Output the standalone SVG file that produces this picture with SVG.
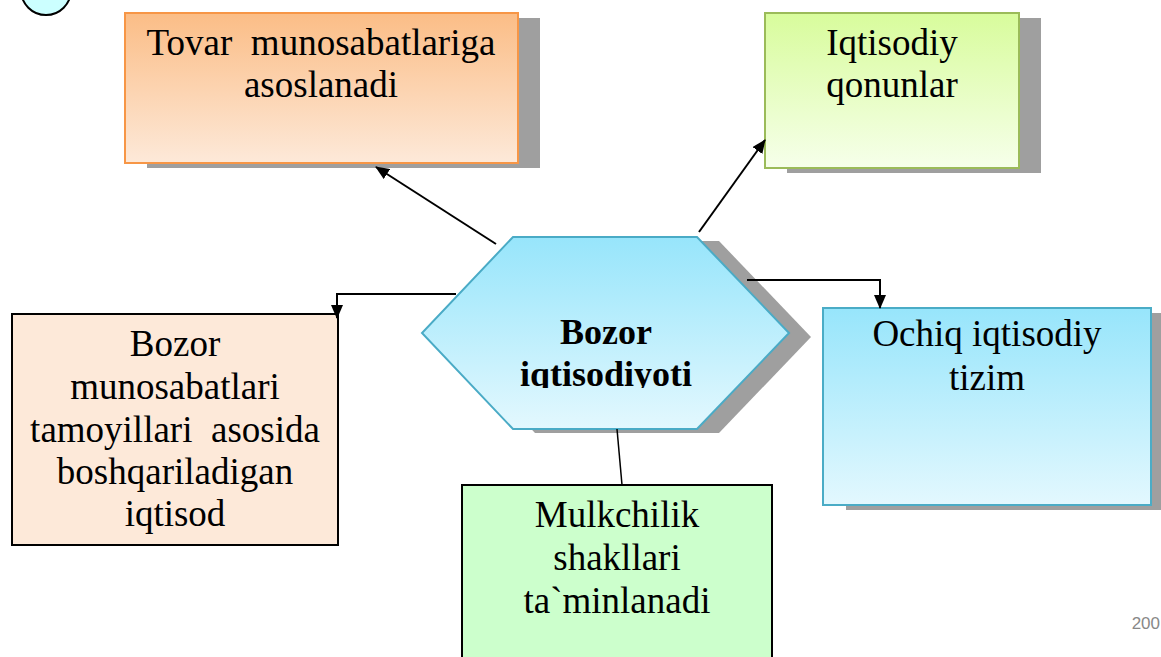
<svg xmlns="http://www.w3.org/2000/svg" width="1161" height="657" viewBox="0 0 1161 657">
<style>
.t{font-family:"Liberation Serif","Times New Roman",serif;font-size:37px;fill:#000;text-anchor:middle;white-space:pre}
.b{font-weight:bold;font-size:36px}
.sh{fill:#9f9f9f}
.ln{stroke:#000;stroke-width:2;fill:none}
</style>
<defs>
<linearGradient id="gO" x1="0" y1="0" x2="0" y2="1"><stop offset="0" stop-color="#fbbd86"/><stop offset="1" stop-color="#fde9d9"/></linearGradient>
<linearGradient id="gG" x1="0" y1="0" x2="0" y2="1"><stop offset="0" stop-color="#d8fc9c"/><stop offset="1" stop-color="#f6ffea"/></linearGradient>
<linearGradient id="gB" x1="0" y1="0" x2="0" y2="1"><stop offset="0" stop-color="#97e5fb"/><stop offset="1" stop-color="#e3f8fe"/></linearGradient>
<marker id="ah" markerWidth="14" markerHeight="12" refX="13" refY="6" orient="auto" markerUnits="userSpaceOnUse"><path d="M0,0 L14,6 L0,12 Z" fill="#000"/></marker>
<clipPath id="hc"><rect x="422" y="237" width="367" height="151"/></clipPath>
</defs>
<g id="corner-circle"><circle cx="46" cy="-10" r="25" fill="#ccffff" stroke="#000" stroke-width="2"/></g>
<g id="node-tovar">
<rect class="sh" x="147" y="18" width="393" height="150"/>
<rect x="125" y="13" width="393" height="150" fill="url(#gO)" stroke="#f79646" stroke-width="2"/>
<text class="t" x="321" y="55">Tovar  munosabatlariga</text>
<text class="t" x="321" y="97">asoslanadi</text>
</g>
<g id="node-iqtisodiy">
<rect class="sh" x="787" y="18" width="254" height="155"/>
<rect x="765" y="13" width="254" height="155" fill="url(#gG)" stroke="#9bbb59" stroke-width="2"/>
<text class="t" x="892" y="55">Iqtisodiy</text>
<text class="t" x="892" y="97">qonunlar</text>
</g>
<g id="node-bozor">
<polygon class="sh" points="535,241 719,241 811,337 719,433 535,433 444,337"/>
<polygon points="513,237 697,237 789,333 697,429 513,429 422,333" fill="url(#gB)" stroke="#4aabc6" stroke-width="2"/>
<g clip-path="url(#hc)">
<text class="t b" x="606" y="344">Bozor</text>
<text class="t b" x="606" y="386">iqtisodiyoti</text>
</g>
</g>
<g id="node-boshqariladigan">
<rect x="12" y="314" width="326" height="231" fill="#fde9d9" stroke="#000" stroke-width="2"/>
<text class="t" x="175" y="356">Bozor</text>
<text class="t" x="175" y="399">munosabatlari</text>
<text class="t" x="175" y="442">tamoyillari  asosida</text>
<text class="t" x="175" y="484">boshqariladigan</text>
<text class="t" x="175" y="526">iqtisod</text>
</g>
<g id="node-ochiq">
<rect class="sh" x="846" y="313" width="328" height="197"/>
<rect x="823" y="308" width="328" height="197" fill="url(#gB)" stroke="#4aacc6" stroke-width="2"/>
<text class="t" x="987" y="346">Ochiq iqtisodiy</text>
<text class="t" x="987" y="390">tizim</text>
</g>
<g id="node-mulkchilik">
<rect x="462" y="485" width="310" height="190" fill="#ccffcc" stroke="#000" stroke-width="2"/>
<text class="t" x="617" y="527">Mulkchilik</text>
<text class="t" x="617" y="570">shakllari</text>
<text class="t" x="617" y="613">ta`minlanadi</text>
</g>
<g id="connectors">
<line class="ln" x1="496" y1="244" x2="376" y2="167" marker-end="url(#ah)"/>
<line class="ln" x1="699" y1="232" x2="765" y2="140" marker-end="url(#ah)"/>
<polyline class="ln" points="456,294 337,294 337,318" marker-end="url(#ah)"/>
<polyline class="ln" points="747,280 880,280 880,308" marker-end="url(#ah)"/>
<line x1="617" y1="429" x2="622" y2="485" stroke="#000" stroke-width="1.5"/>
</g>
<text x="1160" y="629" font-family="Liberation Sans, Arial, sans-serif" font-size="17" fill="#888" text-anchor="end">200</text>
</svg>
